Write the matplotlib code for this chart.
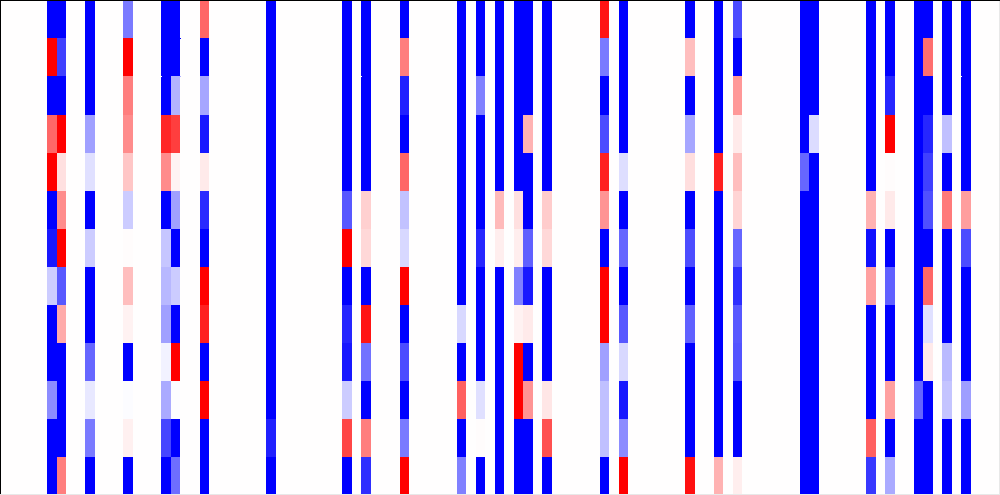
import numpy as np
import matplotlib
matplotlib.use("Agg")
import matplotlib.pyplot as plt

n_rows = 13
n_cols = 105

column_index = [5, 6, 9, 13, 17, 18, 21, 28, 36, 38, 42, 48, 50, 52, 54, 55, 57,
                63, 65, 72, 75, 77, 84, 85, 91, 93, 96, 97, 99, 101]

c05 = [-1, 1, -1, .6, 1, -1, -.9, -.2, -1, -1, -.45, -1, -1]
c06 = [-1, -.75, -1, 1, .12, .45, 1, -.65, .33, -1, -1, -1, .5]
c09 = [-1, -1, -1, -.37, -.12, -1, -.2, -1, -1, -.6, -.09, -.52, -1]
c13 = [-.52, 1, .5, .45, .22, -.2, .01, .25, .05, -1, -.01, .06, -1]
c17 = [-1, -1, -1, .85, .45, -1, -.22, -.28, -.37, -.05, -.33, -.72, -1]
c18 = [-1, -1, -.3, .75, .04, -.37, -1, -.2, -1, 1, -.01, -1, -.57]
c21 = [.6, -1, -.35, -.9, .08, -.83, -1, 1, .87, -1, 1, -1, -1]
c28 = [-1, -1, -1, -1, -1, -1, -1, -1, -1, -1, -1, -.87, -1]
c36 = [-1, -1, -1, -1, -1, -.65, 1, -1, -.85, -.9, -.2, .72, -1]
c38 = [-1, -1, -1, -1, -1, .18, .15, -1, .92, -.55, -1, .5, -.82]
c42 = [-1, .5, -.87, -1, .6, -.24, -.15, 1, -1, -.7, -1, -.52, 1]
c48 = [-1, -1, -1, -1, -1, -1, -1, -1, -.15, -1, .62, -1, -.5]
c50 = [-1, -1, -.5, -1, -1, -1, -.85, -1, -1, -1, -.12, .01, -1]
c52 = [-1, -1, -1, -1, -1, .27, .07, -1, -1, -1, -1, -1, -1]
c54 = [-1, -1, -1, -1, -1, .12, .07, -.5, .05, 1, 1, -1, -1]
c55 = [-1, -1, -1, .3, -1, -1, -.62, -.9, .08, -1, .42, -1, -1]
c57 = [-1, -1, -1, -1, -1, .2, .15, -1, -1, -1, .1, .68, -1]
c63 = [.92, -.52, -1, -.7, .87, .42, -1, 1, 1, -.37, -.25, -.25, -1]
c65 = [-1, -1, -1, -1, -.13, -1, -.6, -1, -.65, -.15, -.9, -.45, 1]
c72 = [-1, .25, -1, -.35, .13, -1, -.7, -1, -.62, -1, -1, -1, .93]
c75 = [-1, -1, -1, -1, .87, -1, -1, -1, -1, -1, -1, -1, .3]
c77 = [-.7, -1, .4, .08, .25, .17, -.6, -.82, -.65, -.67, -1, -1, .07]
c84 = [-1, -1, -1, -1, -.6, -1, -1, -1, -1, -1, -1, -1, -1]
c85 = [-1, -1, -1, -.14, -1, -1, -1, -1, -1, -1, -1, -1, -1]
c91 = [-1, -1, -1, -1, -1, .3, -.93, .37, -1, -1, -1, .62, -.78]
c93 = [-1, -1, -.85, 1, .01, .08, -1, -.62, -1, -1, .37, -1, -.33]
c96 = [-1, -1, -1, -1, -1, -1, -1, -1, -1, -1, -.6, -1, -1]
c97 = [-1, .57, -1, -.85, -.75, -.68, -1, .6, -.12, .08, -1, -1, -1]
c99 = [-1, -1, -1, -.25, -1, .52, -1, -1, -1, -.27, -.23, -1, -1]
c101 = [-1, -1, -1, -1, -1, .38, -.7, -1, -1, -1, -.38, -1, -1]

columns = [c05, c06, c09, c13, c17, c18, c21, c28, c36, c38, c42, c48, c50, c52,
           c54, c55, c57, c63, c65, c72, c75, c77, c84, c85, c91, c93, c96, c97,
           c99, c101]

matrix = np.zeros((n_rows, n_cols))
for idx, col in zip(column_index, columns):
    matrix[:, idx] = col

W, H = 1000, 495
fig = plt.figure(figsize=(W / 100, H / 100), dpi=100)
ax = fig.add_axes([0.03 / W, -0.8 / H, 1, 1])
mesh = ax.pcolormesh(np.arange(n_cols + 1), np.arange(n_rows + 1), matrix, cmap="bwr",
                     vmin=-1, vmax=1, antialiased=False, edgecolors="none", linewidth=0)
mesh.set_snap(False)
ax.set_xlim(0, n_cols)
ax.set_ylim(n_rows, 0)
ax.set_axis_off()

frame = fig.add_axes([0, 0, 1, 1], facecolor="none")
frame.set_xticks([])
frame.set_yticks([])
for side, color in (("left", "black"), ("top", "black"), ("right", "#e8e8e8"), ("bottom", "#e8e8e8")):
    frame.spines[side].set_color(color)
    frame.spines[side].set_linewidth(1.44)
fig.savefig("out.png", dpi=100)
